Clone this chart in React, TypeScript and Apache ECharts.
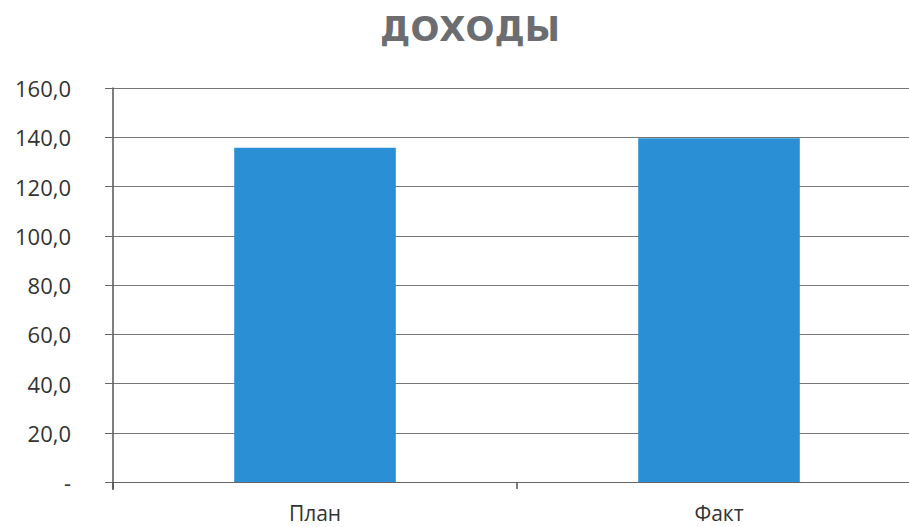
import React, { useEffect, useRef } from "react";
import * as echarts from "echarts";

const categories = ["План", "Факт"];
const values = [135.7, 139.6];
const titleText = "ДОХОДЫ";

export default function App() {
  const ref = useRef<HTMLDivElement>(null);
  useEffect(() => {
    document.body.style.margin = "0";
    const chart = echarts.init(ref.current!, undefined, { renderer: "svg" });
    chart.setOption({
      animation: false,
      backgroundColor: "#ffffff",
      graphic: [
        {
          type: "text",
          x: 470,
          y: 29,
          style: {
            text: titleText,
            fontFamily: "DejaVu Sans",
            fontWeight: "bold",
            fontSize: 34,
            fill: "#6b6d70",
            textAlign: "center",
            textVerticalAlign: "middle",
          },
        },
        {
          type: "line",
          shape: { x1: 113, y1: 482, x2: 113, y2: 490 },
          style: { stroke: "#555", lineWidth: 1.5 },
        },
      ],
      grid: { left: 113, right: 9, top: 88, bottom: 45, outerBoundsMode: "none" },
      xAxis: {
        type: "category",
        data: categories,
        axisLine: { show: true, lineStyle: { color: "#666", width: 1.2 } },
        axisTick: { show: true, length: 7, lineStyle: { color: "#555", width: 1.5 } },
        axisLabel: {
          fontFamily: "Open Sans",
          fontSize: 21,
          lineHeight: 20,
          color: "#333",
          margin: 21,
        },
      },
      yAxis: {
        type: "value",
        min: 0,
        max: 160,
        interval: 20,
        axisLine: { show: true, lineStyle: { color: "#555", width: 1.5 } },
        axisTick: { show: true, length: 8, lineStyle: { color: "#666" } },
        splitLine: { show: true, lineStyle: { color: "#777", width: 1.2 } },
        axisLabel: {
          fontFamily: "Open Sans",
          fontSize: 22,
          color: "#333",
          margin: 42,
          formatter: (v: number) => (v === 0 ? "-" : v.toFixed(1).replace(".", ",")),
        },
      },
      series: [
        {
          type: "bar",
          data: values,
          barWidth: "40%",
          itemStyle: { color: "#2b8fd6" },
        },
      ],
    });
    return () => chart.dispose();
  }, []);
  return (
    <div
      style={{ position: "absolute", left: 0, top: 0, width: 909, height: 527, overflow: "hidden" }}
    >
      <div ref={ref} style={{ width: 930, height: 527 }} />
    </div>
  );
}
